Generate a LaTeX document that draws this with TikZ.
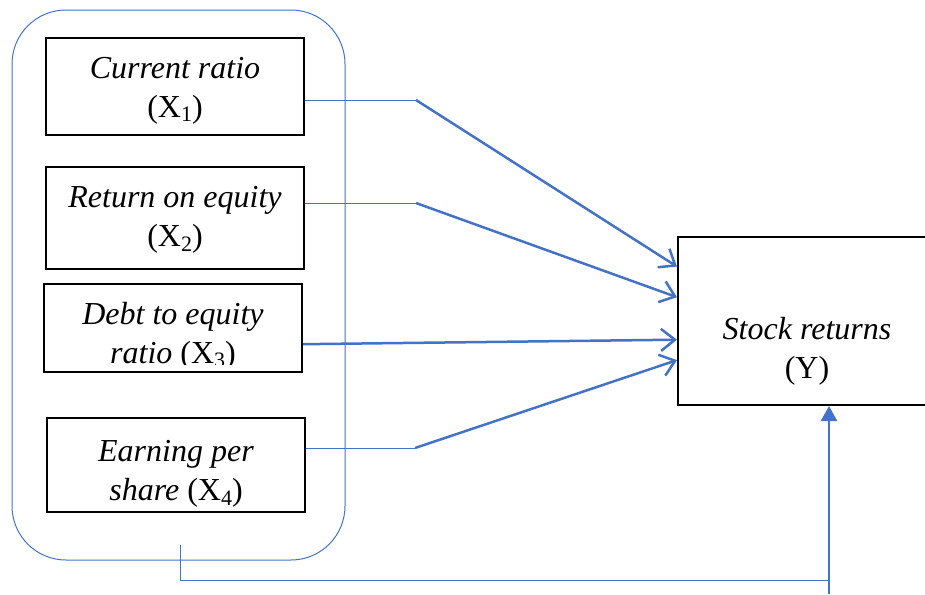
\documentclass[tikz,border=0pt]{standalone}
\usepackage{fontspec}
\setmainfont{Liberation Serif}
\usetikzlibrary{arrows.meta, calc, positioning}
\definecolor{linkblue}{HTML}{4472C4}
\tikzset{
  varbox/.style={draw, line width=1pt, minimum width=129pt, align=center, inner sep=0pt,
    font=\fontsize{16}{19.5}\selectfont},
  boxtext/.style={font=\fontsize{16}{19.5}\selectfont, align=center, inner sep=0pt},
  thinlink/.style={linkblue, line width=0.5pt},
  link/.style={linkblue, line width=1.25pt, -{Straight Barb[length=7pt,width=11pt]}},
  uplink/.style={linkblue, line width=1.2pt, -{Triangle[length=7.5pt,width=8pt]}},
}
\newcommand{\varidx}[1]{\raisebox{-0.3ex}{\fontsize{11}{11}\selectfont #1}}

\begin{document}
\begin{tikzpicture}[x=0.5pt,y=-0.5pt]
			\useasboundingbox (0,0) rectangle (925,594);
			% group frame
			\node [draw=linkblue, line width=0.5pt, rounded corners=27pt, minimum width=166.5pt, minimum height=275pt] (grp) at (178.5,285) {};
			% independent variables
			\node [varbox, minimum height=48.5pt, label={[boxtext, yshift=-2pt]center:{\textit{Current ratio}\\(X\varidx{1})}}] (b1) at (175,86.5) {};
			\node [varbox, minimum height=51pt, label={[boxtext, yshift=-1pt]center:{\textit{Return on equity}\\(X\varidx{2})}}] (b2) at (175,218) {};
			\node [varbox, minimum height=44pt] (b3) at (173,328) {};
			\begin{scope}
				\clip (44,284) rectangle (302,364);
				\node [boxtext] (t3) at (173,336) {\textit{Debt to equity}\\\textit{ratio} (X\varidx{3})};
			\end{scope}
			\node [varbox, minimum height=47pt, label={[boxtext, yshift=-4.5pt]center:{\textit{Earning per}\\\textit{share} (X\varidx{4})}}] (b4) at (176,465) {};
			% dependent variable
			\node [varbox, minimum width=124.5pt, minimum height=84pt, label={[boxtext, xshift=2.25pt, yshift=-15pt]center:{\textit{Stock returns}\\(Y)}}] (y) at (802.5,321) {};
			% bends
			\coordinate (k1) at (416,100);
			\coordinate (k2) at (416,203);
			\coordinate (k4) at (415,448);
			\draw [thinlink] (k1 -| b1.east) -- (k1);
			\draw [thinlink] (k2 -| b2.east) -- (k2);
			\draw [thinlink] (k4 -| b4.east) -- (k4);
			\draw [link] (k1) -- ($(y.north west)!0.18!(y.south west)$);
			\draw [link] (k2) -- ($(y.north west)!0.36!(y.south west)$);
			\draw [link] ($(b3.north east)!0.68!(b3.south east)$) -- ($(y.north west)!0.61!(y.south west)$);
			\draw [link] (k4) -- ($(y.north west)!0.73!(y.south west)$);
			% moderating path
			\coordinate (g0) at (180,545);
			\coordinate (g1) at (180,580);
			\coordinate (ybase) at (829,594);
			\draw [thinlink] (g0) -- (g1) -- (g1 -| ybase);
			\draw [uplink] (ybase) -- (y.south -| ybase);
		\end{tikzpicture}
\end{document}
